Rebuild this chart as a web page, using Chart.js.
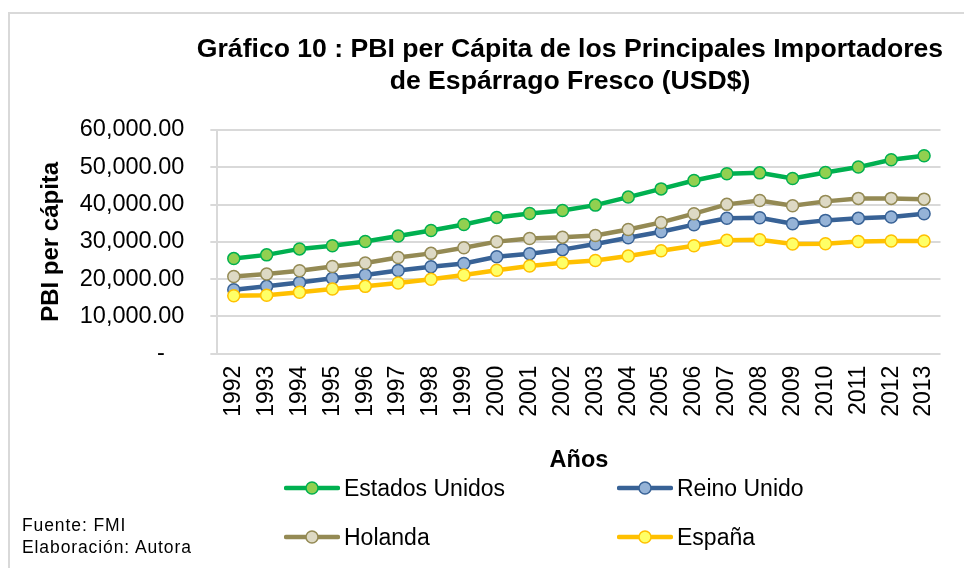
<!DOCTYPE html>
<html>
<head>
<meta charset="utf-8">
<script src="https://cdn.jsdelivr.net/npm/chart.js@4/dist/chart.umd.min.js"></script>
<style>
  html, body { margin: 0; padding: 0; background: #fff; }
  body { width: 964px; height: 568px; position: relative; overflow: hidden; font-family: "Liberation Sans", Arial, sans-serif; }
  #frame { position: absolute; left: 8px; top: 12px; width: 980px; height: 600px; border: 2px solid #d9d9d9; }
  #pbiChart { position: absolute; left: 0; top: 0; width: 964px; height: 568px; }
  #title { position: absolute; left: 176px; right: 0; top: 32px; text-align: center; font-weight: bold; font-size: 26.6px; line-height: 32px; color: #000; }
  .leg { position: absolute; height: 30px; display: flex; align-items: center; font-size: 23px; color: #000; }
  .leg svg { margin-right: 4px; }
  #source { position: absolute; left: 22px; top: 514px; font-size: 17.5px; line-height: 22px; letter-spacing: 0.9px; color: #000; }
</style>
</head>
<body>
<div id="frame"></div>
<canvas id="pbiChart" width="964" height="568"></canvas>
<div id="title">Gráfico 10 : PBI per Cápita de los Principales Importadores<br>de Espárrago Fresco (USD$)</div>
<div id="legend"></div>
<div id="source">Fuente: FMI<br>Elaboración: Autora</div>
<script>
const years = ['1992', '1993', '1994', '1995', '1996', '1997', '1998', '1999', '2000', '2001', '2002',
               '2003', '2004', '2005', '2006', '2007', '2008', '2009', '2010', '2011', '2012', '2013'];

// PBI per cápita (USD)
const estadosUnidos = [25500, 26500, 28100, 28950, 30100, 31550, 33050, 34650, 36550, 37600, 38400,
                       39850, 42000, 44200, 46450, 48250, 48500, 47000, 48600, 50050, 52000, 53100];
const reinoUnido = [17150, 18050, 19100, 20200, 21100, 22300, 23300, 24200, 26000, 26800, 27900,
                    29400, 31100, 32700, 34600, 36300, 36450, 34850, 35750, 36350, 36650, 37550];
const holanda = [20700, 21350, 22250, 23400, 24300, 25800, 26900, 28400, 30050, 30900, 31250,
                 31700, 33300, 35200, 37550, 40050, 41100, 39700, 40850, 41650, 41650, 41450];
const espana = [15550, 15650, 16450, 17350, 18050, 18950, 19950, 21100, 22350, 23500, 24400,
                25000, 26200, 27600, 28950, 30400, 30550, 29400, 29500, 30100, 30200, 30200];

const yTicks = [0, 10000, 20000, 30000, 40000, 50000, 60000];

const series = [
    { label: 'Estados Unidos', data: estadosUnidos, line: '#00b050', fill: '#92d050', border: '#00b050' },
    { label: 'Reino Unido', data: reinoUnido, line: '#386296', fill: '#95b3d7', border: '#386296' },
    { label: 'Holanda', data: holanda, line: '#948a54', fill: '#ddd9c4', border: '#948a54' },
    { label: 'España', data: espana, line: '#ffc000', fill: '#ffff66', border: '#ffc000' }
];

const font = "'Liberation Sans', Arial, sans-serif";

const ctx = document.getElementById('pbiChart').getContext('2d');
const pbiChart = new Chart(ctx, {
    type: 'line',
    data: {
        labels: years,
        datasets: series.map((s, i) => ({
            label: s.label,
            data: s.data,
            borderColor: s.line,
            borderWidth: 4.5,
            pointBackgroundColor: s.fill,
            pointBorderColor: s.border,
            pointBorderWidth: 1.5,
            pointRadius: 6,
            fill: false,
            tension: 0,
            order: series.length - i
        }))
    },
    options: {
        responsive: false,
        animation: false,
        layout: { padding: { top: 130, left: 16, right: 14, bottom: 93 } },
        plugins: {
            legend: { display: false },
            tooltip: { enabled: false }
        },
        scales: {
            x: {
                offset: true,
                grid: { display: false, drawTicks: false },
                border: { display: false },
                ticks: {
                    color: '#000',
                    font: { family: font, size: 23 },
                    maxRotation: 90,
                    minRotation: 90,
                    autoSkip: false,
                    padding: 12
                },
                title: {
                    display: true,
                    text: 'Años',
                    color: '#000',
                    font: { family: font, size: 23.5, weight: 'bold' },
                    padding: { top: 18, bottom: 0 }
                }
            },
            y: {
                min: 0,
                max: 60000,
                afterBuildTicks: (axis) => { axis.ticks = yTicks.map(v => ({ value: v })); },
                grid: { color: '#d9d9d9', lineWidth: 2, tickLength: 7 },
                border: { display: true, color: '#d9d9d9', width: 2 },
                ticks: {
                    color: '#000',
                    font: { family: font, size: 23.5 },
                    padding: 26,
                    autoSkip: false,
                    callback: (v) => v === 0 ? '-\u00a0\u00a0\u00a0' : v.toLocaleString('en-US', { minimumFractionDigits: 2, maximumFractionDigits: 2 })
                },
                title: {
                    display: true,
                    text: 'PBI per cápita',
                    color: '#000',
                    font: { family: font, size: 24, weight: 'bold' },
                    padding: { top: 21, bottom: -12 }
                }
            }
        }
    }
});

// leyenda en dos columnas como en el original
const legendPos = [
    { left: 284, top: 473 }, { left: 617, top: 473 },
    { left: 284, top: 522 }, { left: 617, top: 522 }
];
const legend = document.getElementById('legend');
series.forEach((s, i) => {
    const item = document.createElement('div');
    item.className = 'leg';
    item.style.left = legendPos[i].left + 'px';
    item.style.top = legendPos[i].top + 'px';
    item.innerHTML = '<svg width="56" height="16"><line x1="2" y1="8" x2="54" y2="8" stroke="' + s.line +
        '" stroke-width="4.5" stroke-linecap="round"/><circle cx="28" cy="8" r="6" fill="' + s.fill +
        '" stroke="' + s.border + '" stroke-width="1.5"/></svg><span>' + s.label + '</span>';
    legend.appendChild(item);
});
</script>
</body>
</html>
